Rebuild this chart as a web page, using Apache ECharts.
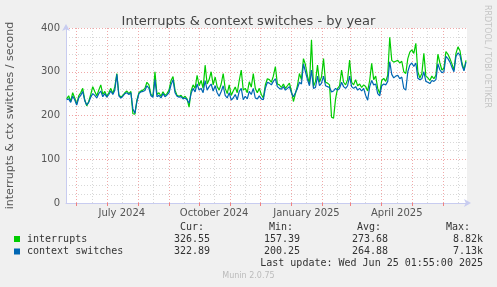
<!DOCTYPE html>
<html><head><meta charset="utf-8">
<script src="https://cdn.jsdelivr.net/npm/echarts@6/dist/echarts.min.js"></script>
<style>html,body{margin:0;padding:0;background:#f0f0f0;}#c{width:497px;height:287px;}</style>
</head><body><div id="c"></div>
<script>
// sampling: one value every 2 days starting 2024-05-22
const startDay = Date.UTC(2024, 4, 22);
const stepDays = 2;
const interrupts = [238,245,232,252,240,226,245,252,262,236,222,232,248,266,255,245,258,270,248,255,
244,252,262,250,266,296,248,242,246,252,256,250,255,204,203,235,252,256,258,262,
276,270,248,244,300,248,252,244,254,246,250,258,280,289,258,246,244,246,240,244,
238,219,256,270,262,292,268,280,262,315,272,282,300,270,288,266,258,272,296,262,
250,270,246,256,265,252,280,304,258,262,252,277,265,296,262,252,262,248,240,270,
284,282,276,290,312,272,270,264,272,262,268,274,256,232,250,268,296,282,330,316,
290,272,373,266,278,315,276,288,330,276,274,270,196,194,238,262,268,304,276,270,
282,327,276,270,282,268,272,264,270,266,256,280,319,282,290,262,250,280,285,278,
292,379,326,322,324,326,320,324,300,296,330,345,350,342,365,300,286,296,342,290,
286,280,290,284,292,340,320,304,308,346,340,330,318,304,342,357,348,320,304,326];
const contextSwitches = [236,238,230,244,236,224,240,246,255,234,224,230,242,250,246,240,250,256,243,250,
242,248,256,248,258,294,245,240,244,250,252,248,252,215,205,232,250,254,255,257,
268,262,245,242,282,243,246,240,250,243,247,252,270,282,252,244,242,243,238,240,
236,228,250,262,254,272,258,262,252,280,258,266,272,256,268,252,244,255,268,246,
240,252,235,240,248,236,255,262,236,244,238,255,248,262,240,238,245,238,236,262,
276,274,270,278,284,266,262,260,266,258,262,266,252,243,252,262,276,272,318,300,
282,268,304,262,264,290,268,274,290,268,266,264,254,256,262,258,262,276,266,262,
268,290,266,262,266,258,262,256,262,246,235,266,280,270,272,250,245,268,272,270,
278,323,294,286,290,292,284,288,262,258,300,315,320,312,320,285,282,284,300,278,
276,273,280,278,282,318,304,298,300,335,330,322,310,300,335,343,338,315,302,322];
const seriesNames = ['interrupts', 'context switches'];
const seriesColors = ['#00cc00', '#0066b3'];
const statHeaders = ['Cur:', 'Min:', 'Avg:', 'Max:'];
const statsInterrupts = ['326.55', '157.39', '273.68', '8.82k'];
const statsContext = ['322.89', '200.25', '264.88', '7.13k'];
const monthStarts = ['2024-06-01','2024-07-01','2024-08-01','2024-09-01','2024-10-01','2024-11-01','2024-12-01',
  '2025-01-01','2025-02-01','2025-03-01','2025-04-01','2025-05-01','2025-06-01'];
const midMonths = ['2024-06-16','2024-07-16','2024-08-16','2024-09-16','2024-10-16','2024-11-16','2024-12-16',
  '2025-01-16','2025-02-16','2025-03-16','2025-04-16','2025-05-16','2025-06-16'];
const xLabelDates = ['2024-07-16','2024-10-16','2025-01-16','2025-04-16'];
const xLabelTexts = ['July 2024','October 2024','January 2025','April 2025'];

const ts = s => Date.parse(s + 'T00:00:00Z');
const DAY = 86400000;
const toPairs = arr => arr.map((v, i) => [startDay + i * stepDays * DAY, v]);
const labelMap = {};
xLabelDates.forEach((d, i) => { labelMap[ts(d)] = xLabelTexts[i]; });

const axisMin = Date.UTC(2024, 4, 21, 8);
const axisMax = Date.UTC(2025, 5, 25, 0);
const mono = 'DejaVu Sans Mono';
const txtColor = '#333';

const chart = echarts.init(document.getElementById('c'), null, {renderer: 'canvas'});
const statCols = [210, 300, 388, 483];
const headerCols = [204, 293, 381, 470];
const graphics = [];
statHeaders.forEach((h, i) => graphics.push({type: 'text', right: 497 - headerCols[i], top: 222,
  style: {text: h, font: '10px ' + mono, fill: txtColor}}));
[statsInterrupts, statsContext].forEach((row, r) => row.forEach((v, i) => graphics.push({type: 'text',
  right: 497 - statCols[i], top: 234 + r * 12.4, style: {text: v, font: '10px ' + mono, fill: txtColor}})));
graphics.push({type: 'text', right: 14, top: 258, style: {text: 'Last update: Wed Jun 25 01:55:00 2025', font: '10px ' + mono, fill: txtColor}});
graphics.push({type: 'text', left: 'center', top: 272, style: {text: 'Munin 2.0.75', font: '8px DejaVu Sans', fill: '#bbbbbb'}});
graphics.push({type: 'text', x: 491, y: 5, rotation: -Math.PI / 2,
  style: {text: 'RRDTOOL / TOBI OETIKER', font: '8px DejaVu Sans', fill: '#c4c4c4'}});

chart.setOption({
  animation: false,
  backgroundColor: '#f0f0f0',
  title: {text: 'Interrupts & context switches - by year', left: 'center', top: 10,
    textStyle: {fontFamily: 'DejaVu Sans', fontSize: 13, fontWeight: 'normal', color: '#444'}},
  grid: {left: 66, right: 30, top: 28, bottom: 84, show: true, backgroundColor: '#ffffff', borderWidth: 0,
    containLabel: false, outerBoundsMode: 'none'},
  legend: {orient: 'vertical', left: 14, top: 233, padding: 0, itemWidth: 6, itemHeight: 6, itemGap: 0.5, icon: 'rect',
    data: seriesNames, selectedMode: false,
    textStyle: {fontFamily: mono, fontSize: 10, color: txtColor, padding: [0, 0, 0, 2], lineHeight: 12}},
  xAxis: {type: 'value', min: axisMin, max: axisMax,
    axisLine: {show: true, lineStyle: {color: '#c8ccf0', width: 1}, symbol: ['none', 'arrow'], symbolSize: [6, 7], symbolOffset: [0, 4]},
    axisTick: {show: true, customValues: monthStarts.map(ts), length: 3, lineStyle: {color: '#f08080'}},
    axisLabel: {customValues: xLabelDates.map(ts), formatter: v => labelMap[v] || '', color: '#555',
      fontFamily: 'DejaVu Sans', fontSize: 10, margin: 5, hideOverlap: false, showMinLabel: true, showMaxLabel: true},
    splitLine: {show: false}},
  yAxis: {type: 'value', min: 0, max: 400, interval: 100,
    name: 'interrupts & ctx switches / second', nameLocation: 'middle', nameGap: 50,
    nameTextStyle: {fontFamily: 'DejaVu Sans', fontSize: 11, color: '#555'},
    axisLine: {show: true, lineStyle: {color: '#c8ccf0', width: 1}, symbol: ['none', 'arrow'], symbolSize: [6, 7], symbolOffset: [0, 4]},
    axisTick: {show: false},
    axisLabel: {color: '#555', fontFamily: 'DejaVu Sans', fontSize: 10, margin: 6},
    splitLine: {show: true, lineStyle: {color: '#f0a8a8', type: [1, 2], width: 1}},
    minorTick: {show: false, splitNumber: 5},
    minorSplitLine: {show: true, lineStyle: {color: '#d8d8d8', type: [1, 2], width: 1}}},
  graphic: graphics,
  series: [
    {type: 'line', name: '_grid', data: [], silent: true, z: 1,
      markLine: {silent: true, symbol: ['none', 'none'], z: 1, label: {show: false},
        data: midMonths.map(d => ({xAxis: ts(d), lineStyle: {color: '#d8d8d8', type: [1, 2], width: 1}}))
          .concat(monthStarts.map(d => ({xAxis: ts(d), lineStyle: {color: '#f0a8a8', type: [1, 2], width: 1}})))}},
    {type: 'line', name: seriesNames[0], data: toPairs(interrupts), showSymbol: false, z: 3,
      lineStyle: {width: 1.2, color: seriesColors[0]}, itemStyle: {color: seriesColors[0]}},
    {type: 'line', name: seriesNames[1], data: toPairs(contextSwitches), showSymbol: false, z: 4,
      lineStyle: {width: 1.2, color: seriesColors[1]}, itemStyle: {color: seriesColors[1]}}
  ]
});
</script></body></html>
